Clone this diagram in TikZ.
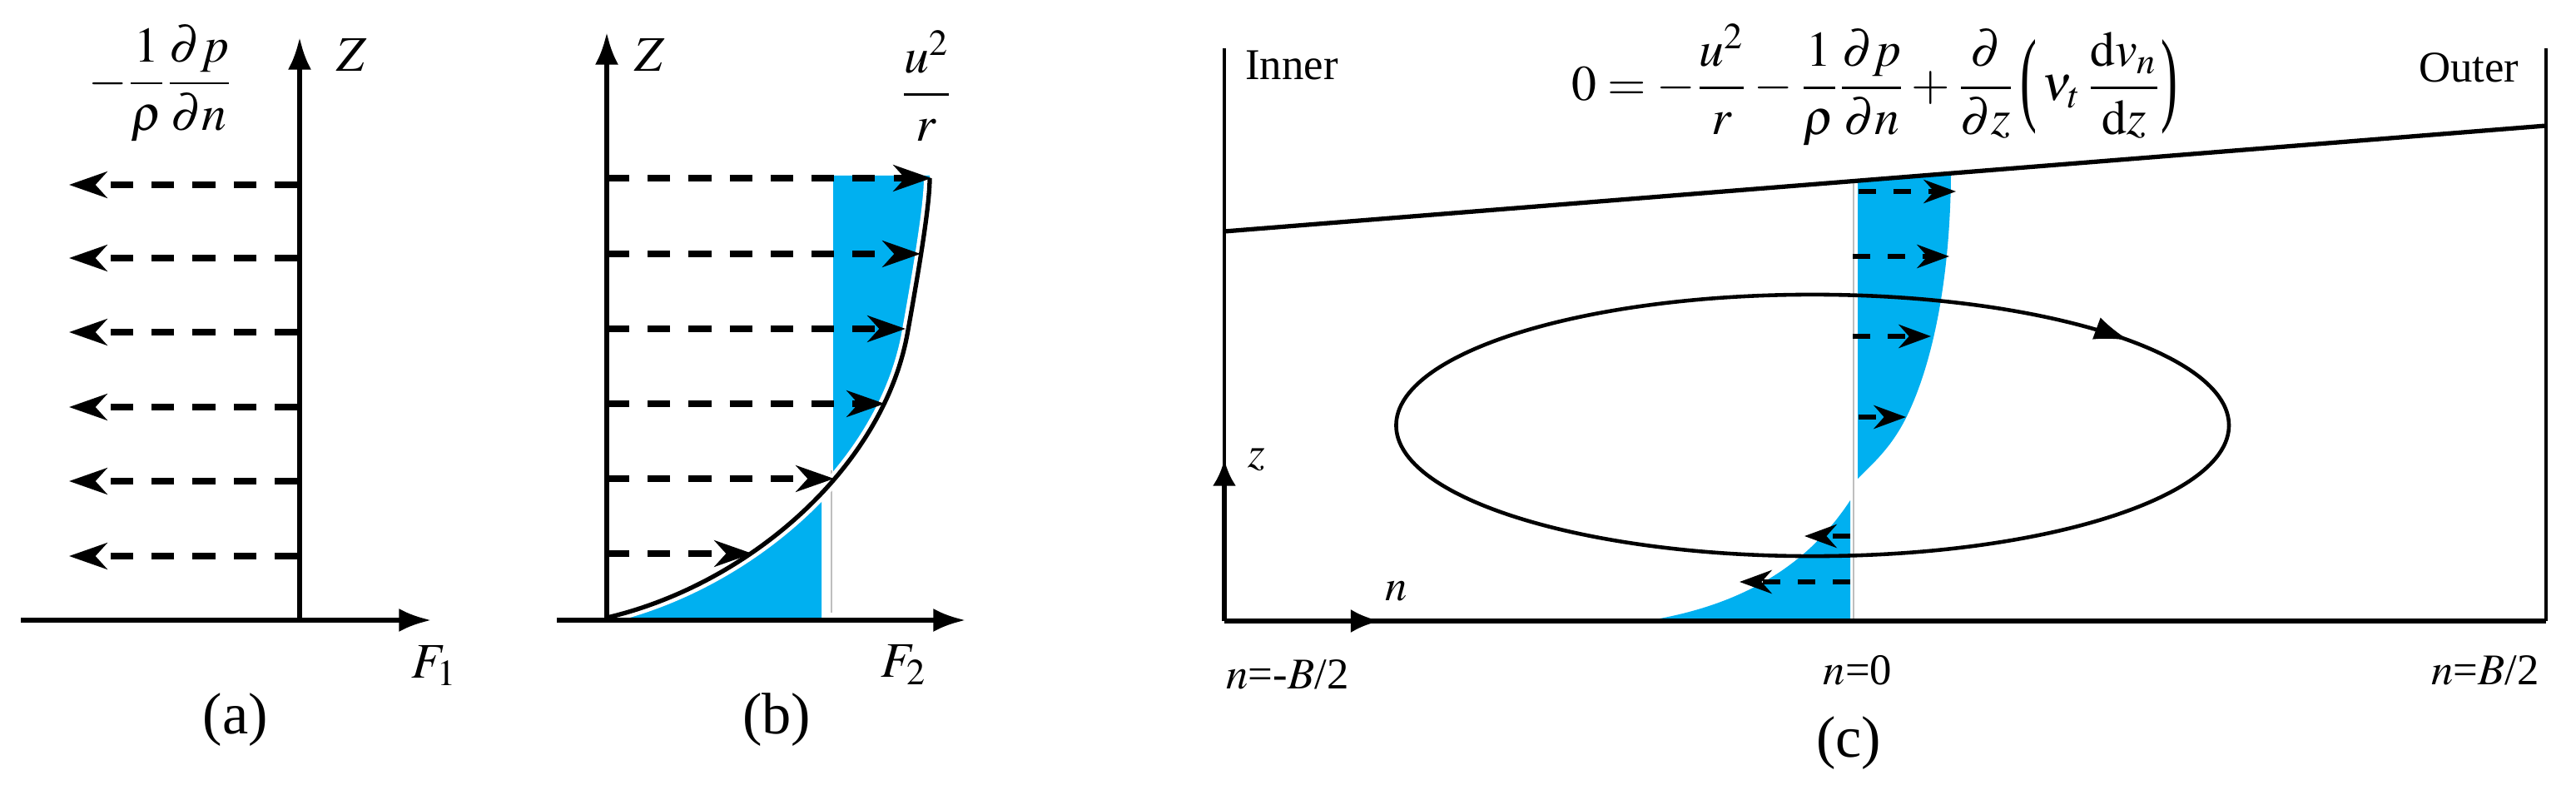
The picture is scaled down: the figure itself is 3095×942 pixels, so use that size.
\documentclass[tikz,border=0pt]{standalone}
\usepackage{amsmath}
\usepackage{mathptmx}
\usepackage{fontspec}
\setmainfont{Liberation Serif}
\usetikzlibrary{arrows.meta,decorations.markings}

\definecolor{flowblue}{RGB}{0,176,240}
\definecolor{refgray}{RGB}{190,190,190}

\newcommand{\tallparen}[1]{\mathopen{\raisebox{-0.24em}{\scalebox{1}[2.1]{#1}}}}

\tikzset{
  axis/.style={line width=1.7pt,-{Latex[length=11pt,width=8pt]}},
  force/.style={line width=2pt,dash pattern=on 7.7pt off 6.3pt,-{Stealth[length=13pt,width=9pt,inset=4pt]}},
  smallforce/.style={line width=1.6pt,dash pattern=on 6pt off 6pt,-{Stealth[length=11pt,width=8pt,inset=3.5pt]}},
  lab/.style={font=\fontsize{17}{20}\selectfont},
  clab/.style={font=\fontsize{15}{18}\selectfont},
  caption/.style={font=\fontsize{20}{24}\selectfont},
}

\begin{document}
\begin{tikzpicture}[x=0.01cm,y=0.01cm]
        \useasboundingbox (0,0) rectangle (3095,942);

        % (a) pressure gradient
        \draw[force] (357,720) -- (83,720);
        \draw[force] (357,632) -- (83,632);
        \draw[force] (357,543) -- (83,543);
        \draw[force] (357,453) -- (83,453);
        \draw[force] (357,364) -- (83,364);
        \draw[force] (357,274) -- (83,274);
        \draw[axis] (25,197) -- (518,197);
        \draw[axis] (360,197) -- (360,897);
        \node[lab] (zA) at (423,876) {$Z$};
        \node[lab] (fA) at (522,142) {$F_1$};
        \node[lab] (gradA) at (193,842) {$\displaystyle -\frac{1}{\rho}\frac{\partial p}{\partial n}$};
        \node[caption] (capA) at (283,77) {(a)};

        % (b) centrifugal term
        \begin{scope}
            \clip (1001,150) rectangle (1200,731);
            \fill[flowblue] (729,200) .. controls (900,240) and (1060,380) .. (1090,540)
                .. controls (1108,640) and (1117,700) .. (1117,731) -- (729,731) -- cycle;
        \end{scope}
        \begin{scope}
            \clip (700,197) rectangle (987,731);
            \fill[flowblue] (729,200) .. controls (900,240) and (1060,380) .. (1090,540)
                .. controls (1108,640) and (1117,700) .. (1117,731) -- (1117,197) -- (729,197) -- cycle;
        \end{scope}
        \draw[refgray, line width=0.8pt] (999,206) -- (999,377);
        \draw[white, line width=4pt] (729,200) .. controls (900,240) and (1060,380) .. (1090,540)
            .. controls (1108,640) and (1117,700) .. (1117,728);
        \draw[line width=1.5pt] (729,200) .. controls (900,240) and (1060,380) .. (1090,540)
            .. controls (1108,640) and (1117,700) .. (1117,728);
        \draw[force] (729,728) -- (1119,728);
        \draw[force] (729,637) -- (1106,637);
        \draw[force] (729,547) -- (1088,547);
        \draw[force] (729,457) -- (1063,457);
        \draw[force] (729,367) -- (1002,367);
        \draw[force] (729,277) -- (904,277);
        \draw[axis] (669,197) -- (1160,197);
        \draw[axis] (729,197) -- (729,903);
        \node[lab] (zB) at (781,876) {$Z$};
        \node[lab] (fB) at (1086,143) {$F_2$};
        \node[lab] (centB) at (1113,839) {$\dfrac{u^2}{r}$};
        \node[caption] (capB) at (933,77) {(b)};

        % (c) cross section with secondary flow
        \fill[flowblue] (2232,367) -- (2232,726) -- (2344,733) .. controls (2343,600) and (2320,500) .. (2290,440)
            .. controls (2272,404) and (2250,385) .. (2232,367) -- cycle;
        \fill[flowblue] (1983,197) .. controls (2090,215) and (2170,260) .. (2223,341) -- (2223,197) -- cycle;
        \draw[refgray, line width=0.7pt] (2227,197) -- (2227,726);
        \draw[line width=0.9pt] (1471,196) -- (1471,884);
        \draw[line width=0.9pt] (3059,196) -- (3059,884);
        \draw[line width=1.5pt] (1471,664) -- (3059,791);
        \draw[line width=1.5pt] (1471,196) -- (3059,196);
        \draw[line width=1.7pt,-{Latex[length=9pt,width=8pt]}] (1471,196) -- (1471,390);
        \draw[line width=1.7pt,-{Latex[length=10pt,width=8pt]}] (1471,196) -- (1658,196);
        \draw[line width=1.3pt, postaction={decorate},
            decoration={markings, mark=at position 0.925 with {\arrow{Latex[length=12pt,width=8pt]}}}]
            (2678,431) arc[start angle=0, end angle=-360, x radius=5cm, y radius=1.57cm];
        \draw[smallforce] (2233,712) -- (2350,712);
        \draw[smallforce] (2226,634) -- (2342,634);
        \draw[smallforce] (2226,538) -- (2320,538);
        \draw[smallforce] (2233,441) -- (2290,441);
        \draw[smallforce] (2223,298) -- (2168,298);
        \draw[smallforce] (2223,243) -- (2090,243);
        \node[clab] (zC) at (1510,390) {$z$};
        \node[clab] (nC) at (1678,232) {$n$};
        \node[clab] (inner) at (1552,864) {Inner};
        \node[clab] (outer) at (2966,861) {Outer};
        \node[font=\fontsize{17}{20}\selectfont, inner sep=0pt] (balance) at (2252,840)
            {$\displaystyle 0=-\frac{u^2}{r}-\frac{1}{\rho}\frac{\partial p}{\partial n}+\frac{\partial}{\partial z}\,\tallparen{(}\,\nu_t\,\frac{\mathrm{d}v_n}{\mathrm{d}z}\tallparen{)}$};
        \node[clab] (nleft) at (1547,132) {$n$=-$B$/2};
        \node[clab] (nmid) at (2232,137) {$n$=0};
        \node[clab] (nright) at (2986,137) {$n$=$B$/2};
        \node[caption] (capC) at (2221,49) {(c)};
    \end{tikzpicture}
\end{document}
